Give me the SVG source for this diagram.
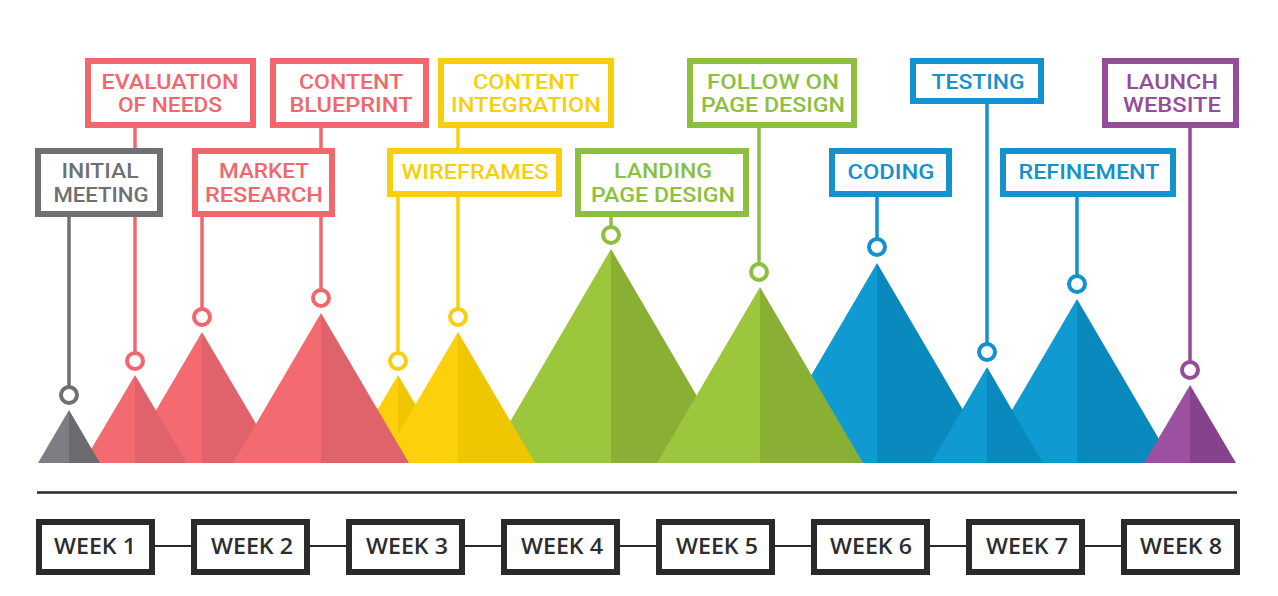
<svg xmlns="http://www.w3.org/2000/svg" width="1278" height="596" viewBox="0 0 1278 596">
<style>
  .box{fill:#ffffff;stroke-width:6}
  .t{font-family:Roboto,"Open Sans","Liberation Sans",sans-serif;font-weight:500;font-size:19.5px;text-anchor:middle}
  .wk{font-family:"Open Sans","DejaVu Sans",sans-serif;font-weight:600;font-size:21px;text-anchor:middle;fill:#2d2d30}
  .wbox{fill:#ffffff;stroke:#2a2a2d;stroke-width:6}
  .ring{fill:#ffffff;stroke-width:4}
  .gray{stroke:#707074;fill:#707074}
  .pink{stroke:#f1676d;fill:#f1676d}
  .yel{stroke:#f8cf0e;fill:#f8cf0e}
  .grn{stroke:#8dbf3f;fill:#8dbf3f}
  .blu{stroke:#1591cd;fill:#1591cd}
  .pur{stroke:#954c9b;fill:#954c9b}
  rect.box,circle.ring{fill:#ffffff}
  line.ln{stroke-width:3.5;fill:none}
  text.t{stroke:none}
  .gL{fill:#7d7d83}.gD{fill:#6b6b70}
  .pL{fill:#f36b71}.pD{fill:#e0626a}
  .yL{fill:#fcd10b}.yD{fill:#f0c600}
  .nL{fill:#9cc63c}.nD{fill:#8aaf35}
  .bL{fill:#0f9bd2}.bD{fill:#0a89be}
  .uL{fill:#9b51a0}.uD{fill:#86428b}
</style>

<!-- mountains (back to front) -->
<g id="peaks">
  <g id="peak-market"><polygon class="pL" points="202,332 125,463 202,463"/><polygon class="pD" points="202,332 279,463 202,463"/></g>
  <g id="peak-evaluation"><polygon class="pL" points="135,375 83,463 135,463"/><polygon class="pD" points="135,375 187,463 135,463"/></g>
  <g id="peak-initial"><polygon class="gL" points="69,410 38,463 69,463"/><polygon class="gD" points="69,410 100,463 69,463"/></g>
  <g id="peak-landing"><polygon class="nL" points="611,249 486,463 611,463"/><polygon class="nD" points="611,249 736,463 611,463"/></g>
  <g id="peak-wireframes"><polygon class="yL" points="398,375 346,463 398,463"/><polygon class="yD" points="398,375 450,463 398,463"/></g>
  <g id="peak-integration"><polygon class="yL" points="458,332 381,463 458,463"/><polygon class="yD" points="458,332 535,463 458,463"/></g>
  <g id="peak-blueprint"><polygon class="pL" points="321,313 233,463 321,463"/><polygon class="pD" points="321,313 409,463 321,463"/></g>
  <g id="peak-coding"><polygon class="bL" points="877,263 760,463 877,463"/><polygon class="bD" points="877,263 994,463 877,463"/></g>
  <g id="peak-refinement"><polygon class="bL" points="1077,299 981,463 1077,463"/><polygon class="bD" points="1077,299 1173,463 1077,463"/></g>
  <g id="peak-follow"><polygon class="nL" points="760,287 657,463 760,463"/><polygon class="nD" points="760,287 863,463 760,463"/></g>
  <g id="peak-testing"><polygon class="bL" points="987,367 931,463 987,463"/><polygon class="bD" points="987,367 1043,463 987,463"/></g>
  <g id="peak-launch"><polygon class="uL" points="1190,385 1144,463 1190,463"/><polygon class="uD" points="1190,385 1236,463 1190,463"/></g>
</g>

<!-- connectors -->
<g id="connectors">
  <line class="ln gray" x1="69" y1="215" x2="69" y2="387"/>
  <line class="ln pink" x1="135" y1="126" x2="135" y2="353"/>
  <line class="ln pink" x1="202" y1="215" x2="202" y2="309"/>
  <line class="ln pink" x1="321" y1="126" x2="321" y2="290"/>
  <line class="ln yel" x1="398" y1="195" x2="398" y2="353"/>
  <line class="ln yel" x1="458" y1="126" x2="458" y2="309"/>
  <line class="ln grn" x1="611" y1="215" x2="611" y2="227"/>
  <line class="ln grn" x1="759" y1="126" x2="759" y2="264"/>
  <line class="ln blu" x1="877" y1="195" x2="877" y2="239"/>
  <line class="ln blu" x1="987" y1="102" x2="987" y2="344"/>
  <line class="ln blu" x1="1077" y1="195" x2="1077" y2="276"/>
  <line class="ln pur" x1="1190" y1="126" x2="1190" y2="362"/>

  <circle class="ring gray" cx="69" cy="395" r="8"/>
  <circle class="ring pink" cx="135" cy="361" r="8"/>
  <circle class="ring pink" cx="202" cy="317" r="8"/>
  <circle class="ring pink" cx="321" cy="298" r="8"/>
  <circle class="ring yel" cx="398" cy="361" r="8"/>
  <circle class="ring yel" cx="458" cy="317" r="8"/>
  <circle class="ring grn" cx="611" cy="235" r="8"/>
  <circle class="ring grn" cx="759" cy="272" r="8"/>
  <circle class="ring blu" cx="877" cy="247" r="8"/>
  <circle class="ring blu" cx="987" cy="352" r="8"/>
  <circle class="ring blu" cx="1077" cy="284" r="8"/>
  <circle class="ring pur" cx="1190" cy="370" r="8"/>

  <line x1="37" y1="492.5" x2="1237" y2="492.5" stroke="#2a2a2d" stroke-width="2.5"/>
  <g stroke="#2a2a2d" stroke-width="2">
    <line x1="155" y1="546" x2="191" y2="546"/>
    <line x1="310" y1="546" x2="346" y2="546"/>
    <line x1="465" y1="546" x2="501" y2="546"/>
    <line x1="620" y1="546" x2="656" y2="546"/>
    <line x1="775" y1="546" x2="811" y2="546"/>
    <line x1="930" y1="546" x2="966" y2="546"/>
    <line x1="1085" y1="546" x2="1121" y2="546"/>
  </g>
</g>

<!-- label nodes -->
<g id="initial-meeting">
  <rect class="box gray" x="38" y="151" width="122" height="63"/>
  <text class="t gray" x="100" y="178" textLength="77" lengthAdjust="spacingAndGlyphs">INITIAL</text>
  <text class="t gray" x="101" y="201.5" textLength="95" lengthAdjust="spacingAndGlyphs">MEETING</text>
</g>
<g id="evaluation-of-needs">
  <rect class="box pink" x="88" y="61" width="165" height="64"/>
  <text class="t pink" x="170" y="88.5" textLength="137" lengthAdjust="spacingAndGlyphs">EVALUATION</text>
  <text class="t pink" x="170" y="112" textLength="104" lengthAdjust="spacingAndGlyphs">OF NEEDS</text>
</g>
<g id="content-blueprint">
  <rect class="box pink" x="273" y="61" width="153" height="64"/>
  <text class="t pink" x="351" y="88.5" textLength="104" lengthAdjust="spacingAndGlyphs">CONTENT</text>
  <text class="t pink" x="351" y="112" textLength="123" lengthAdjust="spacingAndGlyphs">BLUEPRINT</text>
</g>
<g id="market-research">
  <rect class="box pink" x="195" y="151" width="137" height="63"/>
  <text class="t pink" x="264" y="178" textLength="90" lengthAdjust="spacingAndGlyphs">MARKET</text>
  <text class="t pink" x="264" y="201.5" textLength="118" lengthAdjust="spacingAndGlyphs">RESEARCH</text>
</g>
<g id="content-integration">
  <rect class="box yel" x="441" y="61" width="170" height="64"/>
  <text class="t yel" x="526" y="88.5" textLength="106" lengthAdjust="spacingAndGlyphs">CONTENT</text>
  <text class="t yel" x="526" y="112" textLength="150" lengthAdjust="spacingAndGlyphs">INTEGRATION</text>
</g>
<g id="wireframes">
  <rect class="box yel" x="390" y="151" width="169" height="43"/>
  <text class="t yel" x="475" y="179" textLength="147" lengthAdjust="spacingAndGlyphs">WIREFRAMES</text>
</g>
<g id="landing-page-design">
  <rect class="box grn" x="578" y="151" width="168" height="63"/>
  <text class="t grn" x="663" y="178" textLength="98" lengthAdjust="spacingAndGlyphs">LANDING</text>
  <text class="t grn" x="663" y="201.5" textLength="144" lengthAdjust="spacingAndGlyphs">PAGE DESIGN</text>
</g>
<g id="follow-on-page-design">
  <rect class="box grn" x="690" y="61" width="164" height="64"/>
  <text class="t grn" x="773" y="88.5" textLength="132" lengthAdjust="spacingAndGlyphs">FOLLOW ON</text>
  <text class="t grn" x="773" y="112" textLength="144" lengthAdjust="spacingAndGlyphs">PAGE DESIGN</text>
</g>
<g id="coding">
  <rect class="box blu" x="832" y="151" width="117" height="43"/>
  <text class="t blu" x="891" y="179" textLength="87" lengthAdjust="spacingAndGlyphs">CODING</text>
</g>
<g id="testing">
  <rect class="box blu" x="913" y="61" width="128" height="40"/>
  <text class="t blu" x="978" y="89" textLength="93" lengthAdjust="spacingAndGlyphs">TESTING</text>
</g>
<g id="refinement">
  <rect class="box blu" x="1003" y="151" width="170" height="43"/>
  <text class="t blu" x="1089" y="179" textLength="141" lengthAdjust="spacingAndGlyphs">REFINEMENT</text>
</g>
<g id="launch-website">
  <rect class="box pur" x="1105" y="61" width="131" height="64"/>
  <text class="t pur" x="1172" y="88.5" textLength="92" lengthAdjust="spacingAndGlyphs">LAUNCH</text>
  <text class="t pur" x="1172" y="112" textLength="98" lengthAdjust="spacingAndGlyphs">WEBSITE</text>
</g>

<!-- week nodes -->
<g id="week-1"><rect class="wbox" x="39" y="522" width="113" height="50"/><text class="wk" x="95" y="554" textLength="82" lengthAdjust="spacingAndGlyphs">WEEK 1</text></g>
<g id="week-2"><rect class="wbox" x="194" y="522" width="113" height="50"/><text class="wk" x="252" y="554" textLength="82" lengthAdjust="spacingAndGlyphs">WEEK 2</text></g>
<g id="week-3"><rect class="wbox" x="349" y="522" width="113" height="50"/><text class="wk" x="407" y="554" textLength="82" lengthAdjust="spacingAndGlyphs">WEEK 3</text></g>
<g id="week-4"><rect class="wbox" x="504" y="522" width="113" height="50"/><text class="wk" x="562" y="554" textLength="82" lengthAdjust="spacingAndGlyphs">WEEK 4</text></g>
<g id="week-5"><rect class="wbox" x="659" y="522" width="113" height="50"/><text class="wk" x="717" y="554" textLength="82" lengthAdjust="spacingAndGlyphs">WEEK 5</text></g>
<g id="week-6"><rect class="wbox" x="814" y="522" width="113" height="50"/><text class="wk" x="871" y="554" textLength="82" lengthAdjust="spacingAndGlyphs">WEEK 6</text></g>
<g id="week-7"><rect class="wbox" x="969" y="522" width="113" height="50"/><text class="wk" x="1027" y="554" textLength="82" lengthAdjust="spacingAndGlyphs">WEEK 7</text></g>
<g id="week-8"><rect class="wbox" x="1124" y="522" width="113" height="50"/><text class="wk" x="1181" y="554" textLength="82" lengthAdjust="spacingAndGlyphs">WEEK 8</text></g>
</svg>
